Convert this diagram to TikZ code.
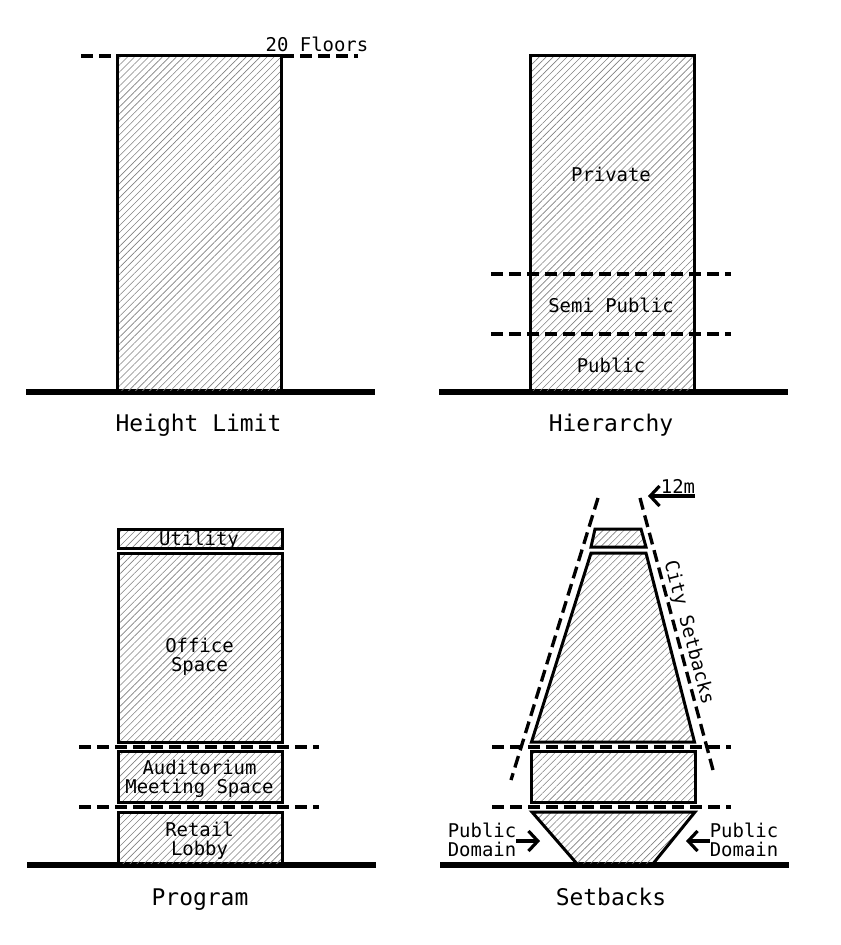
\documentclass[tikz,border=0pt]{standalone}
\usepackage{fontspec}
\setmonofont{DejaVu Sans Mono}
\usepackage{xcolor}
\usetikzlibrary{arrows.meta,patterns.meta}
\definecolor{hatchgrey}{HTML}{808080}
\tikzset{
  hatched/.style={draw=black,line width=2.25pt,line join=miter,pattern={Lines[angle=45,distance=3.7pt,line width=0.45pt]},pattern color=hatchgrey},
  ground/.style={line width=5.2pt},
  limit/.style={line width=2.5pt,dash pattern=on 9pt off 4.5pt},
  pointer/.style={line width=2.4pt,-{Straight Barb[length=7pt,width=15pt,line width=2.4pt]}},
  title/.style={font=\ttfamily\fontsize{17.2}{20}\selectfont},
  tag/.style={font=\ttfamily\fontsize{14.2}{14.4}\selectfont,align=center,inner sep=0pt}
}
\begin{document}
\begin{tikzpicture}[x=0.75pt,y=-0.75pt]
  \useasboundingbox (0,0) rectangle (841,945);
  % ground lines
  \foreach \a/\b/\y in {26/375/392,439/788/392,27/376/865,440/789/865} {
    \draw[ground] (\a,\y) -- (\b,\y);
  }
  % height limit
  \draw[limit] (81,56) -- (116,56);
  \draw[limit] (282,56) -- (358,56);
  \path[hatched] (117,56) rectangle (281,392);
  % hierarchy
  \path[hatched] (530,56) rectangle (694,392);
  \foreach \y in {274,334} {
    \draw[limit] (491,\y) -- (731,\y);
  }
  % program
  \foreach \t/\b in {529/548,553/742,751/802,812/865} {
    \path[hatched] (118,\t) rectangle (282,\b);
  }
  \foreach \y in {747,807} {
    \draw[limit] (79,\y) -- (319,\y);
    \draw[limit] (492,\y) -- (731,\y);
  }
  % setbacks
  \path[hatched] (595,529) -- (641,529) -- (646,547) -- (591,547) -- cycle;
  \path[hatched] (591,553) -- (646,553) -- (694.5,742) -- (531.5,742) -- cycle;
  \path[hatched] (531,751) rectangle (695,802);
  \path[hatched] (532,812) -- (695,812) -- (652,865) -- (578,865) -- cycle;
  \draw[limit] (598,498) -- (511,780);
  \draw[limit] (640,498) -- (713,770);
  % labels
  \foreach \n/\x/\y/\s in {
      h/198.5/431.5/{Height Limit},
      r/611/431.5/Hierarchy,
      p/200/905.5/Program,
      s/611/905.5/Setbacks} {
    \node[title,anchor=base,inner sep=0pt] (title\n) at (\x,\y) {\s};
  }
  \foreach \n/\x/\y/\s in {
      floors/317/44/{20 Floors},
      private/611/174.5/Private,
      semi/611/305/{Semi Public},
      public/611/365/Public,
      utility/199/540/Utility,
      office/199.5/657/{Office\\Space},
      meeting/199.5/779/{Auditorium\\Meeting Space},
      retail/199.5/841/{Retail\\Lobby},
      height/678/486/12m,
      domainl/482/840/{Public\\Domain},
      domainr/744/839.5/{Public\\Domain}} {
    \node[tag] (\n) at (\x,\y) {\s};
  }
  \node[tag,rotate=-75] (city) at (688.5,633) {City Setbacks};
  % pointers
  \coordinate (tipa) at (648,496);
  \coordinate (tipb) at (540,841);
  \coordinate (tipc) at (686,841);
  \draw[pointer] (695,496) -- (tipa);
  \draw[pointer] (domainl.east |- tipb) -- (tipb);
  \draw[pointer] (domainr.west |- tipc) -- (tipc);
\end{tikzpicture}
\end{document}
